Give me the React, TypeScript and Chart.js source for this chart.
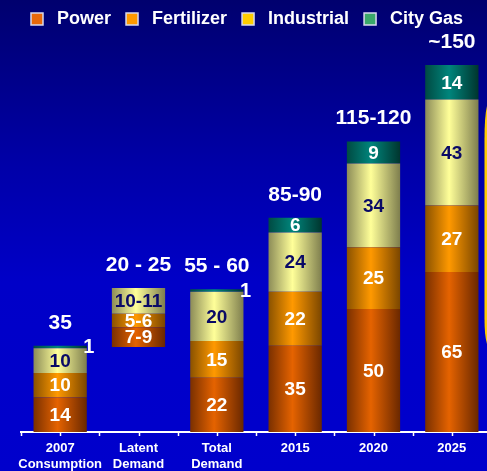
import { useEffect, useRef } from "react";
import { Chart, registerables } from "chart.js";

Chart.register(...registerables);

const categories: (string | string[])[] = [
  ["2007", "Consumption"],
  ["Latent", "Demand"],
  ["Total", "Demand"],
  "2015",
  "2020",
  "2025",
];
const seriesNames = ["Power", "Fertilizer", "Industrial", "City Gas"];
// invisible base so the latent-demand bar floats on top of 2007 consumption
const floatBase = [0, 34.5, 0, 0, 0, 0];
const power = [14, 8, 22, 35, 50, 65];
const fertilizer = [10, 5.5, 15, 22, 25, 27];
const industrial = [10, 10.5, 20, 24, 34, 43];
const cityGas = [1, 0, 1, 6, 9, 14];
const powerLabels = ["14", "7-9", "22", "35", "50", "65"];
const fertilizerLabels = ["10", "5-6", "15", "22", "25", "27"];
const industrialLabels = ["10", "10-11", "20", "24", "34", "43"];
const cityGasLabels = ["1", "", "1", "6", "9", "14"];
const totalLabels = ["35", "20 - 25", "55 - 60", "85-90", "115-120", "~150"];

const FONT = "Arial, 'Liberation Sans', sans-serif";

// [dark left edge, bright, dark right edge]
const gradStops: Record<string, [string, string, string]> = {
  Power: ["#7a3000", "#e56300", "#6a2800"],
  Fertilizer: ["#8a5200", "#ff9900", "#7a4600"],
  Industrial: ["#8c8c58", "#ffff99", "#7e7e4e"],
  "City Gas": ["#004a42", "#00857c", "#00352e"],
};
const legendColors = ["#e8680a", "#ff9900", "#ffcc00", "#3aa86a"];
const labelColors = ["#ffffff", "#ffffff", "#0a0a66", "#ffffff"];
const seriesLabels = [powerLabels, fertilizerLabels, industrialLabels, cityGasLabels];

function gradientFor(name: string) {
  return (c: any) => {
    const stops = gradStops[name];
    const chart = c.chart;
    const xs = chart.scales?.x;
    if (c.type !== "data" || !xs || !chart.ctx) return stops[1];
    const cx = xs.getPixelForValue(c.dataIndex);
    const w = (xs.width / categories.length) * 0.68;
    if (!isFinite(cx) || !isFinite(w) || w <= 0) return stops[1];
    const g = chart.ctx.createLinearGradient(cx - w / 2, 0, cx + w / 2, 0);
    g.addColorStop(0, stops[0]);
    g.addColorStop(0.45, stops[1]);
    g.addColorStop(1, stops[2]);
    return g;
  };
}

const labelPlugin = {
  id: "segLabels",
  afterDatasetsDraw(chart: any) {
    const ctx = chart.ctx;
    ctx.save();
    ctx.textAlign = "center";
    ctx.textBaseline = "middle";
    const tops: number[] = categories.map(() => Infinity);
    for (let s = 0; s < 4; s++) {
      const meta = chart.getDatasetMeta(s + 1);
      meta.data.forEach((el: any, i: number) => {
        const { x, y, base, width } = el.getProps(["x", "y", "base", "width"], true);
        const h = Math.abs(base - y);
        if (h > 0.5) tops[i] = Math.min(tops[i], y);
        const txt = seriesLabels[s][i];
        if (!txt) return;
        ctx.fillStyle = labelColors[s];
        if (h < 8) {
          ctx.font = `bold 20px ${FONT}`;
          ctx.fillText(txt, x + width / 2 + 2, y + 2);
        } else {
          ctx.font = `bold 19px ${FONT}`;
          ctx.fillText(txt, x, (y + base) / 2 + 1);
        }
      });
    }
    ctx.font = `bold 21px ${FONT}`;
    ctx.fillStyle = "#ffffff";
    const meta0 = chart.getDatasetMeta(1);
    meta0.data.forEach((el: any, i: number) => {
      if (isFinite(tops[i])) ctx.fillText(totalLabels[i], el.x, tops[i] - 23);
    });
    ctx.restore();
  },
  afterDraw(chart: any) {
    const ctx = chart.ctx;
    const xs = chart.scales.x;
    const n = categories.length * 2;
    ctx.save();
    ctx.strokeStyle = "#ffffff";
    ctx.lineWidth = 1.5;
    const yb = chart.chartArea.bottom;
    for (let i = 0; i <= n; i++) {
      const x = Math.round(xs.left + (i * xs.width) / n) + 0.5;
      ctx.beginPath();
      ctx.moveTo(x, yb);
      ctx.lineTo(x, yb + 4);
      ctx.stroke();
    }
    // yellow shape partly visible at the right edge of the slide
    ctx.fillStyle = "#ffcc00";
    ctx.beginPath();
    ctx.moveTo(487, 106);
    ctx.quadraticCurveTo(484.5, 116, 484.5, 140);
    ctx.lineTo(484.5, 318);
    ctx.quadraticCurveTo(484.5, 336, 487, 344);
    ctx.lineTo(492, 344);
    ctx.lineTo(492, 106);
    ctx.closePath();
    ctx.fill();
    ctx.restore();
  },
};

export default function App() {
  const ref = useRef<HTMLCanvasElement>(null);
  useEffect(() => {
    if (!ref.current) return;
    const mk = (name: string, data: number[]) => ({
      label: name,
      data,
      backgroundColor: gradientFor(name),
      borderWidth: 0,
      stack: "s",
      categoryPercentage: 1,
      barPercentage: 0.68,
    });
    const chart = new Chart(ref.current, {
      type: "bar",
      data: {
        labels: categories as any,
        datasets: [
          {
            label: "base",
            data: floatBase,
            backgroundColor: "rgba(0,0,0,0)",
            borderWidth: 0,
            stack: "s",
            categoryPercentage: 1,
            barPercentage: 0.68,
          },
          mk("Power", power),
          mk("Fertilizer", fertilizer),
          mk("Industrial", industrial),
          mk("City Gas", cityGas),
        ] as any,
      },
      options: {
        responsive: false,
        animation: false,
        layout: { padding: { left: 21, right: 9, top: 0, bottom: 0 } },
        scales: {
          x: {
            stacked: true,
            grid: { display: false, drawTicks: false },
            border: { display: true, color: "#ffffff", width: 2 },
            ticks: {
              color: "#ffffff",
              font: { family: FONT, size: 13, weight: "bold", lineHeight: 1.23 },
              padding: 8,
              maxRotation: 0,
              autoSkip: false,
            },
          },
          y: { stacked: true, display: false, min: 0, max: 160 },
        },
        plugins: {
          tooltip: { enabled: false },
          legend: {
            position: "top",
            align: "start",
            labels: {
              color: "#ffffff",
              font: { family: FONT, size: 18, weight: "bold" },
              boxWidth: 12,
              boxHeight: 12,
              padding: 10,
              generateLabels: () =>
                seriesNames.map((name, i) => ({
                  text: ` ${name} `,
                  fillStyle: legendColors[i],
                  strokeStyle: "#d8d8ee",
                  lineWidth: 1.5,
                  hidden: false,
                  datasetIndex: i + 1,
                  fontColor: "#ffffff",
                })) as any,
            },
          },
        },
      },
      plugins: [labelPlugin],
    });
    return () => chart.destroy();
  }, []);
  return (
    <div
      style={{
        position: "fixed",
        left: 0,
        top: 0,
        width: 487,
        height: 471,
        overflow: "hidden",
        background: "linear-gradient(180deg, #00006e 0%, #0000a8 35%, #0000c8 60%, #0000cc 100%)",
      }}
    >
      <canvas ref={ref} width={500} height={480} style={{ display: "block" }} />
    </div>
  );
}
